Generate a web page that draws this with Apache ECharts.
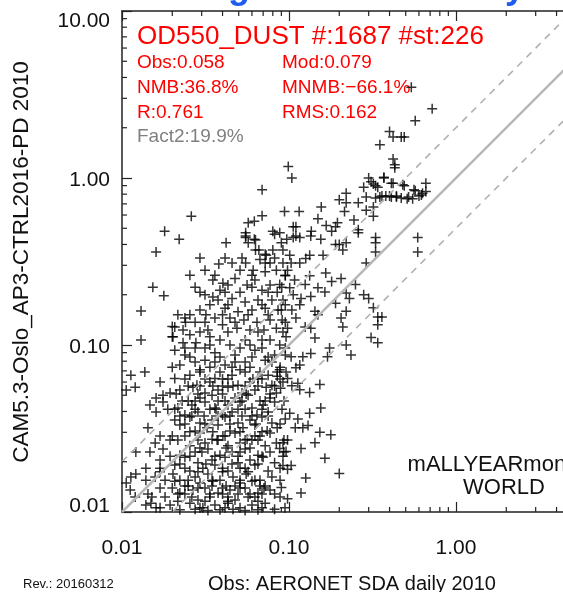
<!DOCTYPE html>
<html><head><meta charset="utf-8">
<script src="https://cdn.jsdelivr.net/npm/echarts@6/dist/echarts.min.js"></script>
<style>html,body{margin:0;padding:0;background:#fff}#c{width:563px;height:592px}</style>
</head><body><div id="c"></div>
<script>
// [obs, mod] pairs
const armPoints = [[0.54,3.5],[0.72,2.6],[0.57,2.2],[0.40,1.9],[0.42,1.76],[0.47,1.76],[0.49,1.76],[0.35,1.58],[0.42,1.30],[0.43,1.20],[0.43,1.15],[0.37,1.01],[0.41,0.93],[0.48,0.91],[0.66,0.93],[0.57,0.84],[0.63,0.81],[0.36,0.78],[0.40,0.78],[0.44,0.78],[0.52,0.77],[0.60,0.78],
[0.099,1.17],[0.104,1.0],[0.30,1.0],[0.31,0.95],[0.32,0.92],[0.33,0.90],[0.37,1.0],[0.42,0.93],[0.49,0.90],[0.56,0.85],
[0.28,0.88],[0.34,0.88],[0.29,0.77],[0.33,0.76],[0.35,0.77],[0.38,0.78],[0.41,0.77],[0.44,0.77],[0.47,0.76],[0.51,0.75],[0.55,0.75],[0.62,0.79],[0.66,0.83],
[0.22,0.81],[0.20,0.74],[0.22,0.71],[0.156,0.67],[0.215,0.63],[0.26,0.71],[0.29,0.64],[0.32,0.67],[0.094,0.63],[0.115,0.63],
[0.149,0.57],[0.195,0.54],[0.19,0.51],[0.167,0.52],[0.245,0.56],[0.32,0.59],[0.106,0.51],[0.11,0.51],[0.136,0.48],[0.26,0.49],[0.18,0.48]];
const upperPoints = [[0.069,0.85],[0.026,0.59],[0.057,0.54],[0.062,0.55],[0.069,0.595],[0.018,0.48],[0.080,0.48],[0.055,0.45],[0.022,0.43],[0.042,0.41],[0.055,0.47],[0.057,0.41],[0.062,0.43],[0.016,0.36],[0.066,0.37],[0.072,0.35],[0.080,0.37],[0.038,0.305],[0.055,0.31],[0.0153,0.222],[0.0178,0.197],[0.013,0.16],[0.013,0.107],[0.020,0.129],[0.020,0.112],
[0.055,0.44],[0.063,0.425],[0.063,0.37],[0.073,0.345],[0.067,0.325],[0.077,0.31],[0.061,0.28],[0.072,0.275],[0.084,0.28],[0.082,0.46]];
const rightPoints = [[0.59,0.44],[0.59,0.36],[0.33,0.44],[0.33,0.41],[0.33,0.36],[0.29,0.31],[0.26,0.47],[0.22,0.41],[0.21,0.37],[0.20,0.40],[0.19,0.40],[0.155,0.43],[0.135,0.45],[0.116,0.44],[0.106,0.44],
[0.133,0.345],[0.126,0.33],[0.16,0.345],[0.09,0.41],[0.092,0.31],[0.103,0.31],[0.098,0.28],[0.166,0.27],[0.18,0.24],[0.205,0.25],[0.25,0.23],[0.22,0.205],[0.23,0.19],
[0.28,0.20],[0.30,0.19],[0.32,0.167],[0.34,0.147],[0.36,0.147],[0.34,0.132],[0.31,0.111],[0.34,0.103],[0.19,0.178],[0.22,0.159],[0.205,0.145],[0.21,0.128],[0.22,0.10],[0.235,0.087],
[0.164,0.208],[0.149,0.22],[0.135,0.195],[0.118,0.19],[0.106,0.20],[0.143,0.159],[0.149,0.152],[0.11,0.145],[0.125,0.128],[0.135,0.126],[0.143,0.11],[0.098,0.126],[0.096,0.112],
[0.175,0.096],[0.17,0.085],[0.135,0.089],[0.121,0.085],[0.103,0.085],[0.116,0.076],[0.11,0.073],[0.088,0.071],[0.096,0.069],
[0.088,0.47],[0.097,0.43],[0.11,0.45],[0.092,0.37],[0.101,0.345],[0.116,0.31],[0.095,0.26],[0.108,0.245],[0.088,0.23],[0.101,0.22],[0.092,0.186],[0.116,0.174],[0.133,0.26],[0.125,0.23],[0.09,0.162],[0.104,0.162],
[0.088,0.10],[0.095,0.087],[0.091,0.141]];
const lowRightPoints = [[0.153,0.058],[0.133,0.052],[0.116,0.054],[0.113,0.059],[0.155,0.042],[0.133,0.039],[0.101,0.039],[0.095,0.036],[0.113,0.036],[0.13,0.033],[0.121,0.032],[0.109,0.032],
[0.153,0.030],[0.178,0.029],[0.143,0.026],[0.098,0.027],[0.092,0.026],[0.118,0.024],[0.096,0.023],[0.088,0.024],[0.164,0.021],[0.103,0.019],[0.098,0.018],[0.092,0.019],
[0.2,0.017],[0.126,0.016],[0.09,0.014],[0.118,0.013],[0.098,0.012],[0.085,0.065],[0.092,0.060],[0.098,0.063],[0.089,0.055],[0.104,0.057]];
const midPoints = [[0.035,0.245],[0.0386,0.213],[0.0431,0.229],[0.0475,0.25],[0.0509,0.207],[0.0561,0.229],[0.0625,0.245],[0.0689,0.213],[0.077,0.229],[0.085,0.207],
[0.0376,0.186],[0.0414,0.166],[0.0456,0.19],[0.0495,0.158],[0.0546,0.181],[0.060,0.162],[0.0652,0.186],[0.072,0.166],[0.079,0.186],[0.086,0.162],
[0.036,0.145],[0.040,0.132],[0.0443,0.145],[0.0488,0.126],[0.0537,0.141],[0.0584,0.123],[0.0643,0.137],[0.0708,0.123],[0.077,0.141],[0.084,0.126],
[0.0314,0.20],[0.0293,0.162],[0.0274,0.137],[0.0327,0.123],[0.0255,0.115],[0.0238,0.145],[0.035,0.194],[0.0402,0.234],[0.0318,0.152],[0.0255,0.152],[0.024,0.137],[0.0207,0.128],[0.0232,0.123],[0.0202,0.112],[0.0232,0.103],[0.0277,0.103],[0.0336,0.112],[0.0386,0.107],
[0.0207,0.093],[0.0238,0.087],[0.0274,0.096],[0.0314,0.081],[0.036,0.090],[0.0414,0.076],[0.0475,0.087],[0.0546,0.079],[0.0625,0.093],[0.072,0.081],[0.082,0.087],[0.0222,0.076],[0.0293,0.071],[0.0386,0.069],[0.0509,0.071],[0.067,0.069],[0.0336,0.10],[0.0443,0.10],[0.0584,0.10],[0.077,0.107],
[0.0274,0.222],[0.060,0.222],[0.0905,0.222],[0.0336,0.174],[0.0431,0.174],[0.0689,0.174],[0.095,0.174],[0.0216,0.152],[0.040,0.152],[0.0569,0.152],[0.075,0.152],
[0.0293,0.1197],[0.0431,0.1197],[0.0652,0.1197],[0.092,0.1197],[0.0546,0.107],[0.0689,0.107],[0.0255,0.0847],[0.0386,0.0847],[0.060,0.0847],[0.075,0.0847],
[0.020,0.0736],[0.0336,0.0736],[0.0456,0.0736],[0.0584,0.0736],[0.0885,0.0736],[0.0456,0.31],[0.072,0.31],[0.0314,0.28],[0.0509,0.28],
[0.0293,0.332],[0.0414,0.332],[0.0523,0.332],[0.082,0.332],[0.0255,0.262],[0.036,0.262],[0.060,0.262],[0.095,0.262],[0.0293,0.207],[0.0414,0.207],[0.075,0.207],
[0.0314,0.137],[0.0475,0.137],[0.095,0.137],[0.0238,0.096],[0.0314,0.096],[0.0509,0.096],[0.0689,0.096],[0.095,0.096],[0.0274,0.079],[0.036,0.079],[0.0475,0.079],[0.079,0.079]];
const corePoints = [[0.0113,0.066],[0.0137,0.069],[0.0207,0.063],[0.0255,0.066],[0.0293,0.069],[0.036,0.063],[0.0456,0.066],[0.0546,0.069],[0.0652,0.063],[0.075,0.066],[0.085,0.069],
[0.0169,0.060],[0.0238,0.0625],[0.0281,0.0575],[0.0336,0.060],[0.040,0.0625],[0.0495,0.0575],[0.0584,0.060],[0.0689,0.0625],[0.079,0.0575],
[0.0106,0.0538],[0.012,0.0558],[0.0194,0.0516],[0.0222,0.0538],[0.0266,0.0558],[0.0314,0.0516],[0.0376,0.0538],[0.0431,0.0558],[0.0523,0.0516],[0.0625,0.0538],[0.073,0.0558],[0.084,0.0516],
[0.016,0.0482],[0.0176,0.050],[0.0249,0.0462],[0.0293,0.0482],[0.0346,0.050],[0.0414,0.0462],[0.0475,0.0482],[0.0569,0.050],[0.067,0.0462],[0.077,0.0482],
[0.0147,0.0437],[0.0176,0.0455],[0.0216,0.0419],[0.0262,0.0437],[0.0314,0.0455],[0.036,0.0419],[0.0431,0.0437],[0.0509,0.0455],[0.060,0.0419],[0.070,0.0437],[0.082,0.0455],
[0.016,0.0397],[0.0188,0.0413],[0.0238,0.0381],[0.0285,0.0397],[0.0336,0.0413],[0.040,0.0381],[0.0456,0.0397],[0.0546,0.0413],[0.0643,0.0381],[0.075,0.0397],
[0.0207,0.0356],[0.0255,0.037],[0.0293,0.0341],[0.0346,0.0356],[0.0414,0.037],[0.0495,0.0341],[0.0584,0.0356],[0.0689,0.037],[0.079,0.0341],
[0.0143,0.0319],[0.0222,0.0332],[0.0274,0.0306],[0.0323,0.0319],[0.0376,0.0332],[0.0443,0.0306],[0.053,0.0319],[0.0625,0.0332],[0.074,0.0306],[0.085,0.0319],
[0.0238,0.0285],[0.0293,0.0297],[0.0346,0.0273],[0.0402,0.0285],[0.0475,0.0297],[0.0561,0.0273],[0.067,0.0285],[0.077,0.0297],
[0.0158,0.0259],[0.0194,0.027],[0.0255,0.0249],[0.0314,0.0259],[0.0371,0.027],[0.0431,0.0249],[0.0509,0.0259],[0.060,0.027],[0.072,0.0249],[0.084,0.0259],
[0.0121,0.0229],[0.0176,0.0238],[0.0222,0.0219],[0.0274,0.0229],[0.0327,0.0238],[0.0386,0.0219],[0.0456,0.0229],[0.0546,0.0238],[0.0652,0.0219],[0.077,0.0229],
[0.0169,0.0205],[0.0238,0.0213],[0.0285,0.0197],[0.0346,0.0205],[0.0414,0.0213],[0.0495,0.0197],[0.0584,0.0205],[0.070,0.0213],[0.082,0.0197],
[0.0139,0.0183],[0.0207,0.0191],[0.0255,0.0176],[0.0305,0.0183],[0.036,0.0191],[0.0431,0.0176],[0.0509,0.0183],[0.0625,0.0191],[0.075,0.0176],
[0.0113,0.0162],[0.0121,0.0169],[0.0139,0.0155],[0.0158,0.0162],[0.0202,0.0169],[0.0222,0.0155],[0.0274,0.0162],[0.0327,0.0169],[0.0386,0.0155],[0.0462,0.0162],[0.0554,0.0169],[0.067,0.0155],[0.079,0.0162],
[0.0106,0.0149],[0.0207,0.0153],[0.0249,0.0143],[0.0293,0.0149],[0.035,0.0153],[0.042,0.0143],[0.0509,0.0149],[0.060,0.0153],[0.072,0.0143],
[0.0112,0.01355],[0.0169,0.0139],[0.0222,0.013],[0.0266,0.01355],[0.0314,0.0139],[0.0376,0.013],[0.0443,0.01355],[0.0546,0.0139],[0.0652,0.013],[0.077,0.01355],
[0.0181,0.0123],[0.0238,0.0128],[0.0285,0.0118],[0.0336,0.0123],[0.040,0.0128],[0.0475,0.0118],[0.0569,0.0123],[0.0689,0.0128],
[0.0139,0.011],[0.0149,0.0113],[0.016,0.0106],[0.0194,0.011],[0.0255,0.0113],[0.0305,0.0106],[0.036,0.011],[0.0431,0.0113],[0.0509,0.0106],[0.060,0.011],[0.072,0.0113],
[0.0222,0.0103],[0.0274,0.0104],[0.0327,0.0102],[0.0386,0.0103],[0.0462,0.0104],[0.0546,0.0102],[0.0652,0.0103],[0.082,0.0104],
[0.0249,0.0568],[0.035,0.0568],[0.0462,0.0568],[0.0652,0.0568],[0.0211,0.0509],[0.0285,0.0509],[0.040,0.0509],[0.0554,0.0509],[0.077,0.0509],
[0.031,0.0376],[0.0443,0.0376],[0.060,0.0376],[0.0255,0.0302],[0.035,0.0302],[0.0509,0.0302],[0.0689,0.0302],[0.0293,0.0242],[0.042,0.0242],[0.0584,0.0242],
[0.0222,0.0194],[0.0318,0.0194],[0.0456,0.0194],[0.0652,0.0194],[0.0169,0.0174],[0.0285,0.0174],[0.040,0.0174],[0.0569,0.0174],[0.0238,0.0143],[0.0346,0.0143],[0.0475,0.0143],[0.067,0.0143],
[0.0216,0.0116],[0.0314,0.0116],[0.0431,0.0116],[0.0652,0.0116]];
const coreExtraPoints = [[0.0314,0.0625],[0.0431,0.0625],[0.0608,0.0625],[0.0884,0.0625],
[0.0229,0.0462],[0.0274,0.0462],[0.0376,0.0462],[0.0523,0.0462],[0.072,0.0462],[0.0933,0.0462],
[0.0207,0.0413],[0.0274,0.0413],[0.0366,0.0413],[0.0495,0.0413],[0.0689,0.0413],[0.0908,0.0413],
[0.0238,0.0337],[0.0314,0.0337],[0.0443,0.0337],[0.0634,0.0337],[0.0884,0.0337],
[0.0216,0.027],[0.0285,0.027],[0.0376,0.027],[0.0546,0.027],[0.0652,0.027],[0.0933,0.027],
[0.0194,0.0216],[0.0255,0.0216],[0.036,0.0216],[0.0495,0.0216],[0.0689,0.0216],[0.092,0.0216],
[0.0181,0.0155],[0.0249,0.0155],[0.0346,0.0155],[0.0509,0.0155],[0.0625,0.0155],[0.0884,0.0155],
[0.020,0.0139],[0.0285,0.0139],[0.040,0.0139],[0.0509,0.0139],[0.0708,0.0139],
[0.0143,0.0128],[0.0216,0.0128],[0.0336,0.0128],[0.0495,0.0128],[0.0584,0.0128],[0.082,0.0128],
[0.0169,0.0106],[0.0293,0.0106],[0.0414,0.0106],[0.0689,0.0106],[0.0946,0.0106],
[0.0293,0.0568],[0.040,0.0568],[0.0546,0.0568],[0.082,0.0568],
[0.0222,0.0376],[0.0262,0.0376],[0.0376,0.0376],[0.0523,0.0376],[0.075,0.0376],
[0.0169,0.0285],[0.020,0.0285],[0.0414,0.0285],[0.0625,0.0285],
[0.0147,0.0229],[0.0301,0.0229],[0.0509,0.0229],[0.093,0.0229],
[0.0169,0.0183],[0.0238,0.0183],[0.040,0.0183],[0.0546,0.0183],[0.0884,0.0183],
[0.012,0.0123],[0.0151,0.0123],[0.0262,0.0123],[0.0431,0.0123],[0.0625,0.0123],[0.0884,0.0123]];

const oneToOne = [[0.01,0.01],[10,10]];
const factor2Upper = [[0.01,0.02],[5,10]];
const factor2Lower = [[0.02,0.01],[10,5]];
const minorTicks = [0.02,0.03,0.04,0.05,0.06,0.07,0.08,0.09,0.2,0.3,0.4,0.5,0.6,0.7,0.8,0.9,2,3,4,5,6,7,8,9];

const titleText = 'OD550_DUST #:1687 #st:226';
const statsLeft = ['Obs:0.058','NMB:36.8%','R:0.761'];
const statsRight = ['Mod:0.079','MNMB:\u221266.1%','RMS:0.162'];
const fact2Text = 'Fact2:19.9%';

const F = '"Liberation Sans", Arial, Helvetica, sans-serif';
const allPoints = [].concat(corePoints, coreExtraPoints, midPoints, lowRightPoints, rightPoints, upperPoints, armPoints);

const chart = echarts.init(document.getElementById('c'), null, {renderer:'canvas'});
const axisCommon = {
  type:'log', logBase:10, min:0.01, max:10,
  axisLine:{show:true, lineStyle:{color:'#222', width:1.5}},
  axisTick:{show:true, inside:true, length:10, lineStyle:{color:'#222', width:1.2}},
  splitLine:{show:false}, minorTick:{show:false}
};
function yLabel(v){
  const s = Number(v).toFixed(2);
  if (Math.abs(v-10) < 1e-6) return '{top|' + s + '}';
  if (Math.abs(v-0.01) < 1e-9) return '{bot|' + s + '}';
  return '{mid|' + s + '}';
}
const labelRich = {
  top:{fontSize:21, color:'#111', fontFamily:F, padding:[20,0,0,0]},
  bot:{fontSize:21, color:'#111', fontFamily:F, padding:[0,0,12,0]},
  mid:{fontSize:21, color:'#111', fontFamily:F, padding:[4,0,0,0]}
};
const graphics = [];
graphics.push({type:'text', x:228, y:-12, style:{text:'g', fill:'#1f5cf0', font:'bold 36px '+F, align:'left', verticalAlign:'middle'}});
graphics.push({type:'text', x:505, y:-12, style:{text:'y', fill:'#1f5cf0', font:'bold 36px '+F, align:'left', verticalAlign:'middle'}});
graphics.push({type:'text', left:137, top:24, style:{text:titleText, fill:'#ff0000', font:'26px '+F}});
statsLeft.forEach((t,i)=>graphics.push({type:'text', left:137, top:53+i*25, style:{text:t, fill:'#ff0000', font:'19px '+F}}));
statsRight.forEach((t,i)=>graphics.push({type:'text', left:282, top:53+i*25, style:{text:t, fill:'#ff0000', font:'19px '+F}}));
graphics.push({type:'text', left:137, top:127, style:{text:fact2Text, fill:'#808080', font:'19px '+F}});
graphics.push({type:'text', x:504, y:465, style:{text:'mALLYEARmonthly', fill:'#111', font:'22px '+F, align:'center', verticalAlign:'middle'}});
graphics.push({type:'text', x:504, y:488, style:{text:'WORLD', fill:'#111', font:'22px '+F, align:'center', verticalAlign:'middle'}});
graphics.push({type:'text', x:352, y:584, style:{text:'Obs: AERONET SDA daily 2010', fill:'#111', font:'20px '+F, align:'center', verticalAlign:'middle'}});
graphics.push({type:'text', x:23, y:584, style:{text:'Rev.: 20160312', fill:'#111', font:'13px '+F, align:'left', verticalAlign:'middle'}});
graphics.push({type:'text', x:22, y:262, rotation:Math.PI/2, style:{text:'CAM5.3-Oslo_AP3-CTRL2016-PD 2010', fill:'#111', font:'22.5px '+F, align:'center', verticalAlign:'middle'}});

const option = {
  animation:false,
  backgroundColor:'#fff',
  grid:{left:122, top:11, width:501, height:501, containLabel:false, outerBoundsMode:'none'},
  xAxis:[
    Object.assign({}, axisCommon, {position:'bottom', axisLabel:{formatter:v=>Number(v).toFixed(2), fontSize:21, color:'#111', margin:26, fontFamily:F}}),
    Object.assign({}, axisCommon, {position:'top', axisLabel:{show:false}})
  ],
  yAxis:[
    Object.assign({}, axisCommon, {position:'left', axisLabel:{formatter:yLabel, rich:labelRich, margin:12}}),
    Object.assign({}, axisCommon, {position:'right', axisLabel:{show:false}})
  ],
  graphic: graphics,
  series:[
    {type:'scatter', data:allPoints, symbol:'path://M5,0L5,10M0,5L10,5', symbolSize:10,
     itemStyle:{color:'none', borderColor:'#000', borderWidth:1.5}, silent:true, z:2},
    {type:'line', data:oneToOne, showSymbol:false, symbol:'none', lineStyle:{color:'#b8b8b8', width:2.5}, silent:true, z:3},
    {type:'line', data:factor2Upper, showSymbol:false, symbol:'none', lineStyle:{color:'#b0b0b0', width:1.6, type:[7,6]}, silent:true, z:3},
    {type:'line', data:factor2Lower, showSymbol:false, symbol:'none', lineStyle:{color:'#b0b0b0', width:1.6, type:[7,6]}, silent:true, z:3},
    {type:'custom', data:minorTicks.map(v=>[v]), silent:true, z:4, clip:false,
     encode:{x:0, y:0},
     renderItem:function(params, api){
       const v = api.value(0);
       const b = api.coord([v, 0.01]);
       const t = api.coord([v, 10]);
       const l = api.coord([0.01, v]);
       const st = {stroke:'#222', lineWidth:1.2};
       return {type:'group', children:[
         {type:'line', shape:{x1:b[0], y1:b[1], x2:b[0], y2:b[1]-5}, style:st},
         {type:'line', shape:{x1:t[0], y1:t[1], x2:t[0], y2:t[1]+5}, style:st},
         {type:'line', shape:{x1:l[0], y1:l[1], x2:l[0]+5, y2:l[1]}, style:st}
       ]};
     }}
  ]
};
chart.setOption(option);
</script></body></html>
